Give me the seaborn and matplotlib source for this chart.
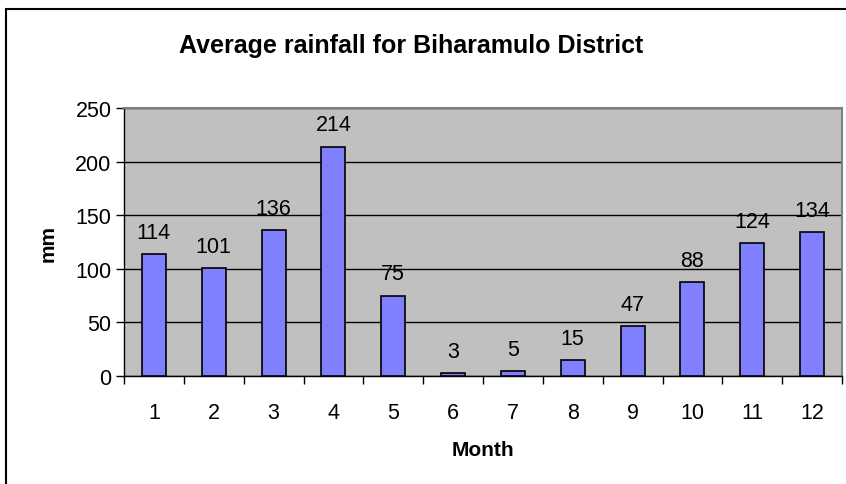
import numpy as np
import pandas as pd
import matplotlib
matplotlib.use("Agg")
import matplotlib.pyplot as plt
from matplotlib.patches import Rectangle
import seaborn as sns

months = [str(m) for m in range(1, 13)]
rainfall = [114, 101, 136, 214, 75, 3, 5, 15, 47, 88, 124, 134]
y_ticks = [0, 50, 100, 150, 200, 250]

sns.set_style("white")
plt.rcParams['font.family'] = ['Liberation Sans', 'DejaVu Sans']
plt.rcParams['text.color'] = 'black'
plt.rcParams['axes.labelcolor'] = 'black'
plt.rcParams['xtick.color'] = 'black'
plt.rcParams['ytick.color'] = 'black'

df = pd.DataFrame({'Month': months, 'mm': rainfall})

fig = plt.figure(figsize=(8.46, 4.85), dpi=100)
W, H = 846, 485
ax = fig.add_axes([124 / W, 1 - 377 / H, (842 - 124) / W, (377 - 109) / H])

sns.barplot(data=df, x='Month', y='mm', ax=ax, color='#8080FF', saturation=1,
            width=0.4, edgecolor='black', linewidth=1.2, zorder=3)

ax.set_facecolor('#C0C0C0')
ax.set_ylim(0, 250)
ax.set_xlim(-0.5, 11.5)
ax.set_yticks(y_ticks)
ax.yaxis.grid(True, color='black', linewidth=1, zorder=1)
ax.set_axisbelow(True)

# category labels in the middle, tick marks on the boundaries
ax.set_xticks(np.arange(12))
ax.set_xticklabels(months)
ax.set_xticks(np.arange(-0.5, 12, 1), minor=True)
ax.tick_params(axis='x', which='major', length=0, pad=19, labelsize=15.5)
ax.tick_params(axis='x', which='minor', length=6, width=1, color='black',
               direction='out', bottom=True)
ax.tick_params(axis='y', length=6, width=1, color='black', direction='out',
               left=True, pad=3, labelsize=15.5)

for side in ['top', 'right']:
    ax.spines[side].set_color('#808080')
    ax.spines[side].set_linewidth(1.5)
for side in ['left', 'bottom']:
    ax.spines[side].set_color('black')
    ax.spines[side].set_linewidth(1)

ax.bar_label(ax.containers[0], padding=8, fontsize=15.5)

ax.set_xlabel('Month', fontsize=15, fontweight='bold', labelpad=12)
ax.set_ylabel('mm', fontsize=15, fontweight='bold', labelpad=13)

fig.text(411 / W, 1 - 46 / H, 'Average rainfall for Biharamulo District',
         ha='center', va='center', fontsize=18, fontweight='bold')

# chart area border (cropped on the right and bottom)
fig.patches.append(Rectangle((6 / W, -0.2), 1.2, 1.2 - 10 / H,
                             transform=fig.transFigure, fill=False,
                             edgecolor='black', linewidth=1.5))

fig.savefig('out.png', dpi=100)
